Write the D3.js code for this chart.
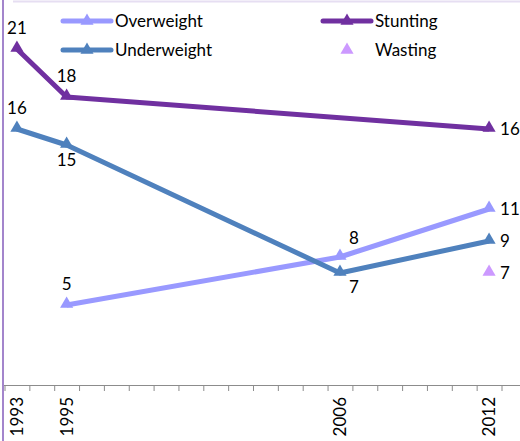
<!DOCTYPE html>
<html>
<head>
<meta charset="utf-8">
<script src="https://cdn.jsdelivr.net/npm/d3@7"></script>
<style>
  html, body { margin: 0; padding: 0; background: #fff; }
  svg { display: block; }
  text { font-family: Lato, "Open Sans", sans-serif; fill: #000; }
</style>
</head>
<body>
<svg id="chart" width="520" height="441"></svg>
<script>
// Survey years and indicator values (%)
const years = [1993, 1995, 2006, 2012];
const overweight = [null, 5, 8, 11];
const underweight = [16, 15, 7, 9];
const stunting = [21, 18, null, 16];
const wasting = [null, null, null, 7];

// Where each value label sits relative to its point
const overweightLabelPos = [null, "above", "aboveRight", "right"];
const underweightLabelPos = ["above", "below", "belowRight", "right"];
const stuntingLabelPos = ["above", "above", null, "right"];
const wastingLabelPos = [null, null, null, "right"];

const series = [
  { name: "Overweight", values: overweight, labels: overweightLabelPos, color: "#9999ff", line: true },
  { name: "Underweight", values: underweight, labels: underweightLabelPos, color: "#4f81bd", line: true },
  { name: "Stunting", values: stunting, labels: stuntingLabelPos, color: "#7030a0", line: true },
  { name: "Wasting", values: wasting, labels: wastingLabelPos, color: "#cc99ff", line: false }
];

const svg = d3.select("#chart");
const W = 520, H = 441;
const axisY = 385;
const fontSize = 17;

// Date-style axis: one slot per year, points centred in their slot
const x = d3.scaleLinear().domain([1992.5, 2012.5]).range([4.5, 501.5]);
const y = d3.scaleLinear().domain([0, 24]).range([axisY, 1]);

// Frame edges
svg.append("line").attr("x1", 13).attr("x2", W).attr("y1", 1.5).attr("y2", 1.5)
  .attr("stroke", "#e6def2").attr("stroke-width", 2);
svg.append("line").attr("x1", 3).attr("x2", 3).attr("y1", 0).attr("y2", H)
  .attr("stroke", "#a385cc").attr("stroke-width", 2);

// Horizontal axis with a tick at every year boundary
const tickVals = d3.range(1992.5, 2013, 1);
const xAxis = d3.axisBottom(x).tickValues(tickVals).tickSize(6).tickFormat("");
const gx = svg.append("g").attr("transform", `translate(0,${axisY})`).call(xAxis);
gx.select(".domain").remove();
gx.selectAll(".tick line").attr("stroke", "#8c8c8c");
svg.append("line").attr("x1", 4).attr("x2", W).attr("y1", axisY + 0.5).attr("y2", axisY + 0.5)
  .attr("stroke", "#8c8c8c").attr("stroke-width", 1);

// Rotated year labels
svg.append("g").selectAll("text").data(years).join("text")
  .attr("transform", d => `translate(${x(d) + 6},397) rotate(-90)`)
  .attr("text-anchor", "end")
  .attr("font-size", fontSize)
  .text(d => d);

const tri = d3.symbol().type(d3.symbolTriangle).size(75);

const line = d3.line()
  .defined(d => d.v != null)
  .x(d => x(d.year))
  .y(d => y(d.v));

const off = {
  above: [0, -15, "middle"],
  below: [0, 21, "middle"],
  right: [11, 6, "start"],
  aboveRight: [14, -13, "middle"],
  belowRight: [14, 20, "middle"]
};

series.forEach(s => {
  const pts = years.map((yr, i) => ({ year: yr, v: s.values[i], pos: s.labels[i] }));
  const valid = pts.filter(d => d.v != null);
  const g = svg.append("g");
  if (s.line) {
    g.append("path")
      .datum(valid)
      .attr("fill", "none")
      .attr("stroke", s.color)
      .attr("stroke-width", 5)
      .attr("stroke-linejoin", "round")
      .attr("d", line);
  }
  g.selectAll("path.m").data(valid).join("path")
    .attr("class", "m")
    .attr("d", tri)
    .attr("fill", s.color)
    .attr("transform", d => `translate(${x(d.year)},${y(d.v) - 1})`);

  g.selectAll("text").data(valid).join("text")
    .attr("font-size", fontSize)
    .attr("text-anchor", d => off[d.pos][2])
    .attr("x", d => x(d.year) + off[d.pos][0])
    .attr("y", d => y(d.v) + off[d.pos][1])
    .text(d => d3.format("d")(d.v));
});

// Legend in two rows
const legendItems = [
  { s: series[0], lx: 63, ly: 21 },
  { s: series[2], lx: 323, ly: 21 },
  { s: series[1], lx: 63, ly: 50 },
  { s: series[3], lx: 323, ly: 50 }
];
const lg = svg.append("g");
legendItems.forEach(({ s, lx, ly }) => {
  if (s.line) {
    lg.append("line").attr("x1", lx).attr("x2", lx + 48).attr("y1", ly).attr("y2", ly)
      .attr("stroke", s.color).attr("stroke-width", 5).attr("stroke-linecap", "round");
  }
  lg.append("path").attr("d", tri).attr("fill", s.color)
    .attr("transform", `translate(${lx + 24},${ly})`);
  lg.append("text").attr("x", lx + 52).attr("y", ly + 6)
    .attr("font-size", fontSize).text(s.name);
});
</script>
</body>
</html>
